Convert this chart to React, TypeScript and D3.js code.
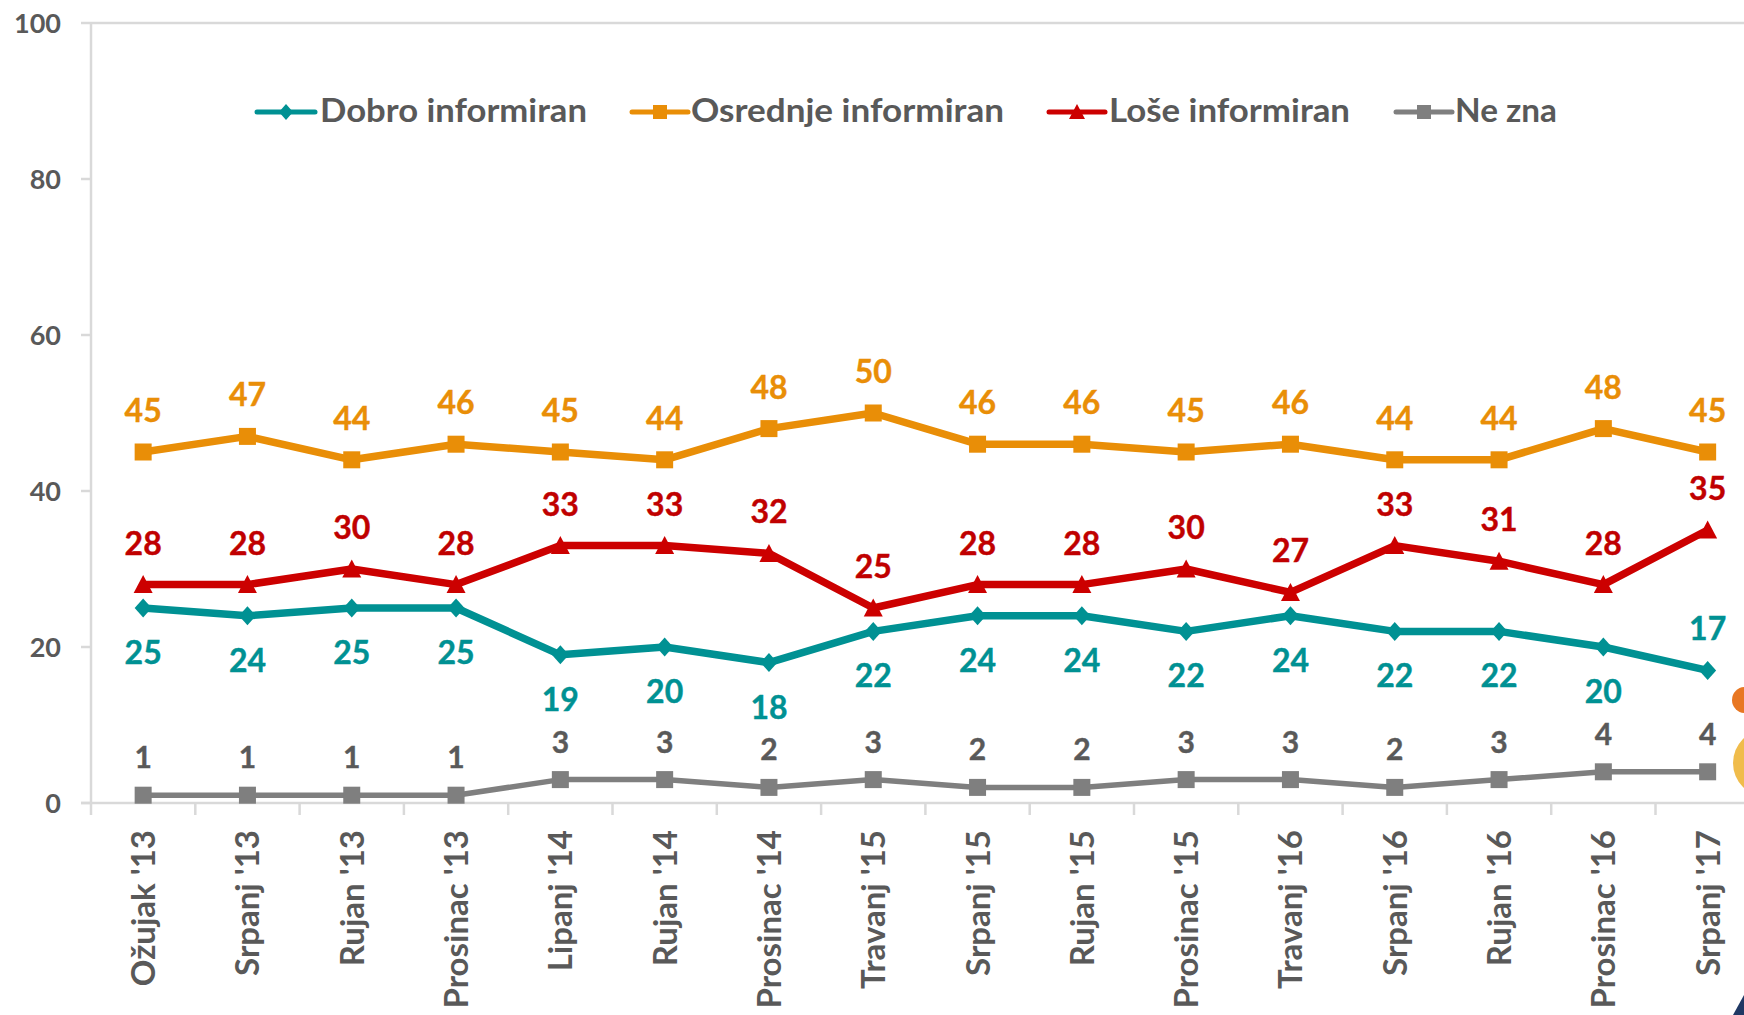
import React from "react";
import * as d3 from "d3";

const categories = [
  "Ožujak '13", "Srpanj '13", "Rujan '13", "Prosinac '13", "Lipanj '14", "Rujan '14",
  "Prosinac '14", "Travanj '15", "Srpanj '15", "Rujan '15", "Prosinac '15", "Travanj '16",
  "Srpanj '16", "Rujan '16", "Prosinac '16", "Srpanj '17",
];
const dobro = [25, 24, 25, 25, 19, 20, 18, 22, 24, 24, 22, 24, 22, 22, 20, 17];
const osrednje = [45, 47, 44, 46, 45, 44, 48, 50, 46, 46, 45, 46, 44, 44, 48, 45];
const lose = [28, 28, 30, 28, 33, 33, 32, 25, 28, 28, 30, 27, 33, 31, 28, 35];
const neZna = [1, 1, 1, 1, 3, 3, 2, 3, 2, 2, 3, 3, 2, 3, 4, 4];
const yTicks = [0, 20, 40, 60, 80, 100];

type Series = {
  name: string;
  values: number[];
  color: string;
  labelColor: string;
  marker: "diamond" | "square" | "triangle";
  below: boolean;
};

const series: Series[] = [
  { name: "Dobro informiran", values: dobro, color: "#009193", labelColor: "#009193", marker: "diamond", below: true },
  { name: "Osrednje informiran", values: osrednje, color: "#E98E07", labelColor: "#E98E07", marker: "square", below: false },
  { name: "Loše informiran", values: lose, color: "#CC0000", labelColor: "#C00000", marker: "triangle", below: false },
  { name: "Ne zna", values: neZna, color: "#7F7F7F", labelColor: "#595959", marker: "square", below: false },
];

const legendPos = [
  { lx: 257, lw: 58, tx: 320, w: 267 },
  { lx: 632, lw: 56, tx: 691, w: 313 },
  { lx: 1049, lw: 56, tx: 1109, w: 241 },
  { lx: 1396, lw: 56, tx: 1455, w: 102 },
];

const W = 1744;
const H = 1015;
const left = 91;
const band = 104.3;
const top = 23;
const bottom = 803;
const FONT = "Lato, 'Open Sans', sans-serif";
const TEXT = "#595959";
const AXIS = "#D9D9D9";

function Marker({ type, x, y, color, size }: { type: string; x: number; y: number; color: string; size: number }) {
  const s = size / 2;
  if (type === "diamond") {
    return <path d={`M${x},${y - s - 1}L${x + s},${y}L${x},${y + s + 1}L${x - s},${y}Z`} fill={color} />;
  }
  if (type === "triangle") {
    return <path d={`M${x},${y - s - 1}L${x + s + 1},${y + s}L${x - s - 1},${y + s}Z`} fill={color} />;
  }
  return <rect x={x - s} y={y - s} width={size} height={size} fill={color} />;
}

export default function App() {
  const x = d3
    .scaleBand<string>()
    .domain(categories)
    .range([left, left + band * categories.length]);
  const cx = (c: string) => (x(c) as number) + x.bandwidth() / 2;
  const y = d3.scaleLinear().domain([0, 100]).range([bottom, top]);
  const line = d3
    .line<number>()
    .x((_, i) => cx(categories[i]))
    .y((v) => y(v));

  const xEnd = left + band * categories.length;

  return (
    <svg width={W} height={H} style={{ position: "absolute", left: 0, top: 0, background: "#fff" }}>
      {/* axes */}
      <line x1={left} x2={xEnd} y1={y(100)} y2={y(100)} stroke={AXIS} strokeWidth={2.5} />
      <line x1={left} x2={left} y1={y(100)} y2={bottom + 12} stroke={AXIS} strokeWidth={2.5} />
      <line x1={left - 10} x2={xEnd} y1={bottom} y2={bottom} stroke={AXIS} strokeWidth={2.5} />
      {yTicks.map((t) => (
        <g key={t}>
          <line x1={left - 10} x2={left} y1={y(t)} y2={y(t)} stroke={AXIS} strokeWidth={2.5} />
          <text x={61} y={y(t) + 10} textAnchor="end" fontFamily={FONT} fontWeight={700} fontSize={27} fill={TEXT}>
            {t}
          </text>
        </g>
      ))}
      {categories.map((c) => (
        <g key={c}>
          <line x1={(x(c) as number) + band} x2={(x(c) as number) + band} y1={bottom} y2={bottom + 12} stroke={AXIS} strokeWidth={2.5} />
          <text
            transform={`translate(${cx(c) + 12},830) rotate(-90)`}
            textAnchor="end"
            fontFamily={FONT}
            fontWeight={700}
            fontSize={33}
            fill={TEXT}
          >
            {c}
          </text>
        </g>
      ))}

      {/* series */}
      {series.map((s) => (
        <g key={s.name}>
          <path d={line(s.values) || ""} fill="none" stroke={s.color} strokeWidth={s.name === "Ne zna" ? 5.5 : 7.5} strokeLinejoin="round" />
          {s.values.map((v, i) => (
            <Marker key={i} type={s.marker} x={cx(categories[i])} y={y(v)} color={s.color} size={17} />
          ))}
          {s.values.map((v, i) => {
            const below = s.below && !(s.name === "Dobro informiran" && i === s.values.length - 1);
            return (
              <text
                key={"l" + i}
                x={cx(categories[i])}
                y={below ? y(v) + 56 : y(v) - (s.name === "Ne zna" ? 27 : 30)}
                textAnchor="middle"
                fontFamily={FONT}
                fontWeight={700}
                fontSize={s.name === "Ne zna" ? 30 : 32}
                fill={s.labelColor}
                stroke={s.labelColor}
                strokeWidth={0.4}
              >
                {v}
              </text>
            );
          })}
        </g>
      ))}

      {/* legend */}
      {series.map((s, i) => {
        const p = legendPos[i];
        const ly = 112;
        return (
          <g key={"lg" + s.name}>
            <line x1={p.lx} x2={p.lx + p.lw} y1={ly} y2={ly} stroke={s.color} strokeWidth={5} strokeLinecap="round" />
            <Marker type={s.marker} x={p.lx + p.lw / 2} y={ly} color={s.color} size={14} />
            <text x={p.tx} y={ly + 10} fontFamily={FONT} fontWeight={700} fontSize={32} fill={TEXT} textLength={p.w} lengthAdjust="spacingAndGlyphs">
              {s.name}
            </text>
          </g>
        );
      })}

      {/* cropped decorations at right edge */}
      <circle cx={1745} cy={700} r={13} fill="#E87722" />
      <circle cx={1767} cy={763} r={34} fill="#F0BC4B" />
      <path d="M1733,1015L1744,995L1744,1015Z" fill="#1F3864" />
    </svg>
  );
}
